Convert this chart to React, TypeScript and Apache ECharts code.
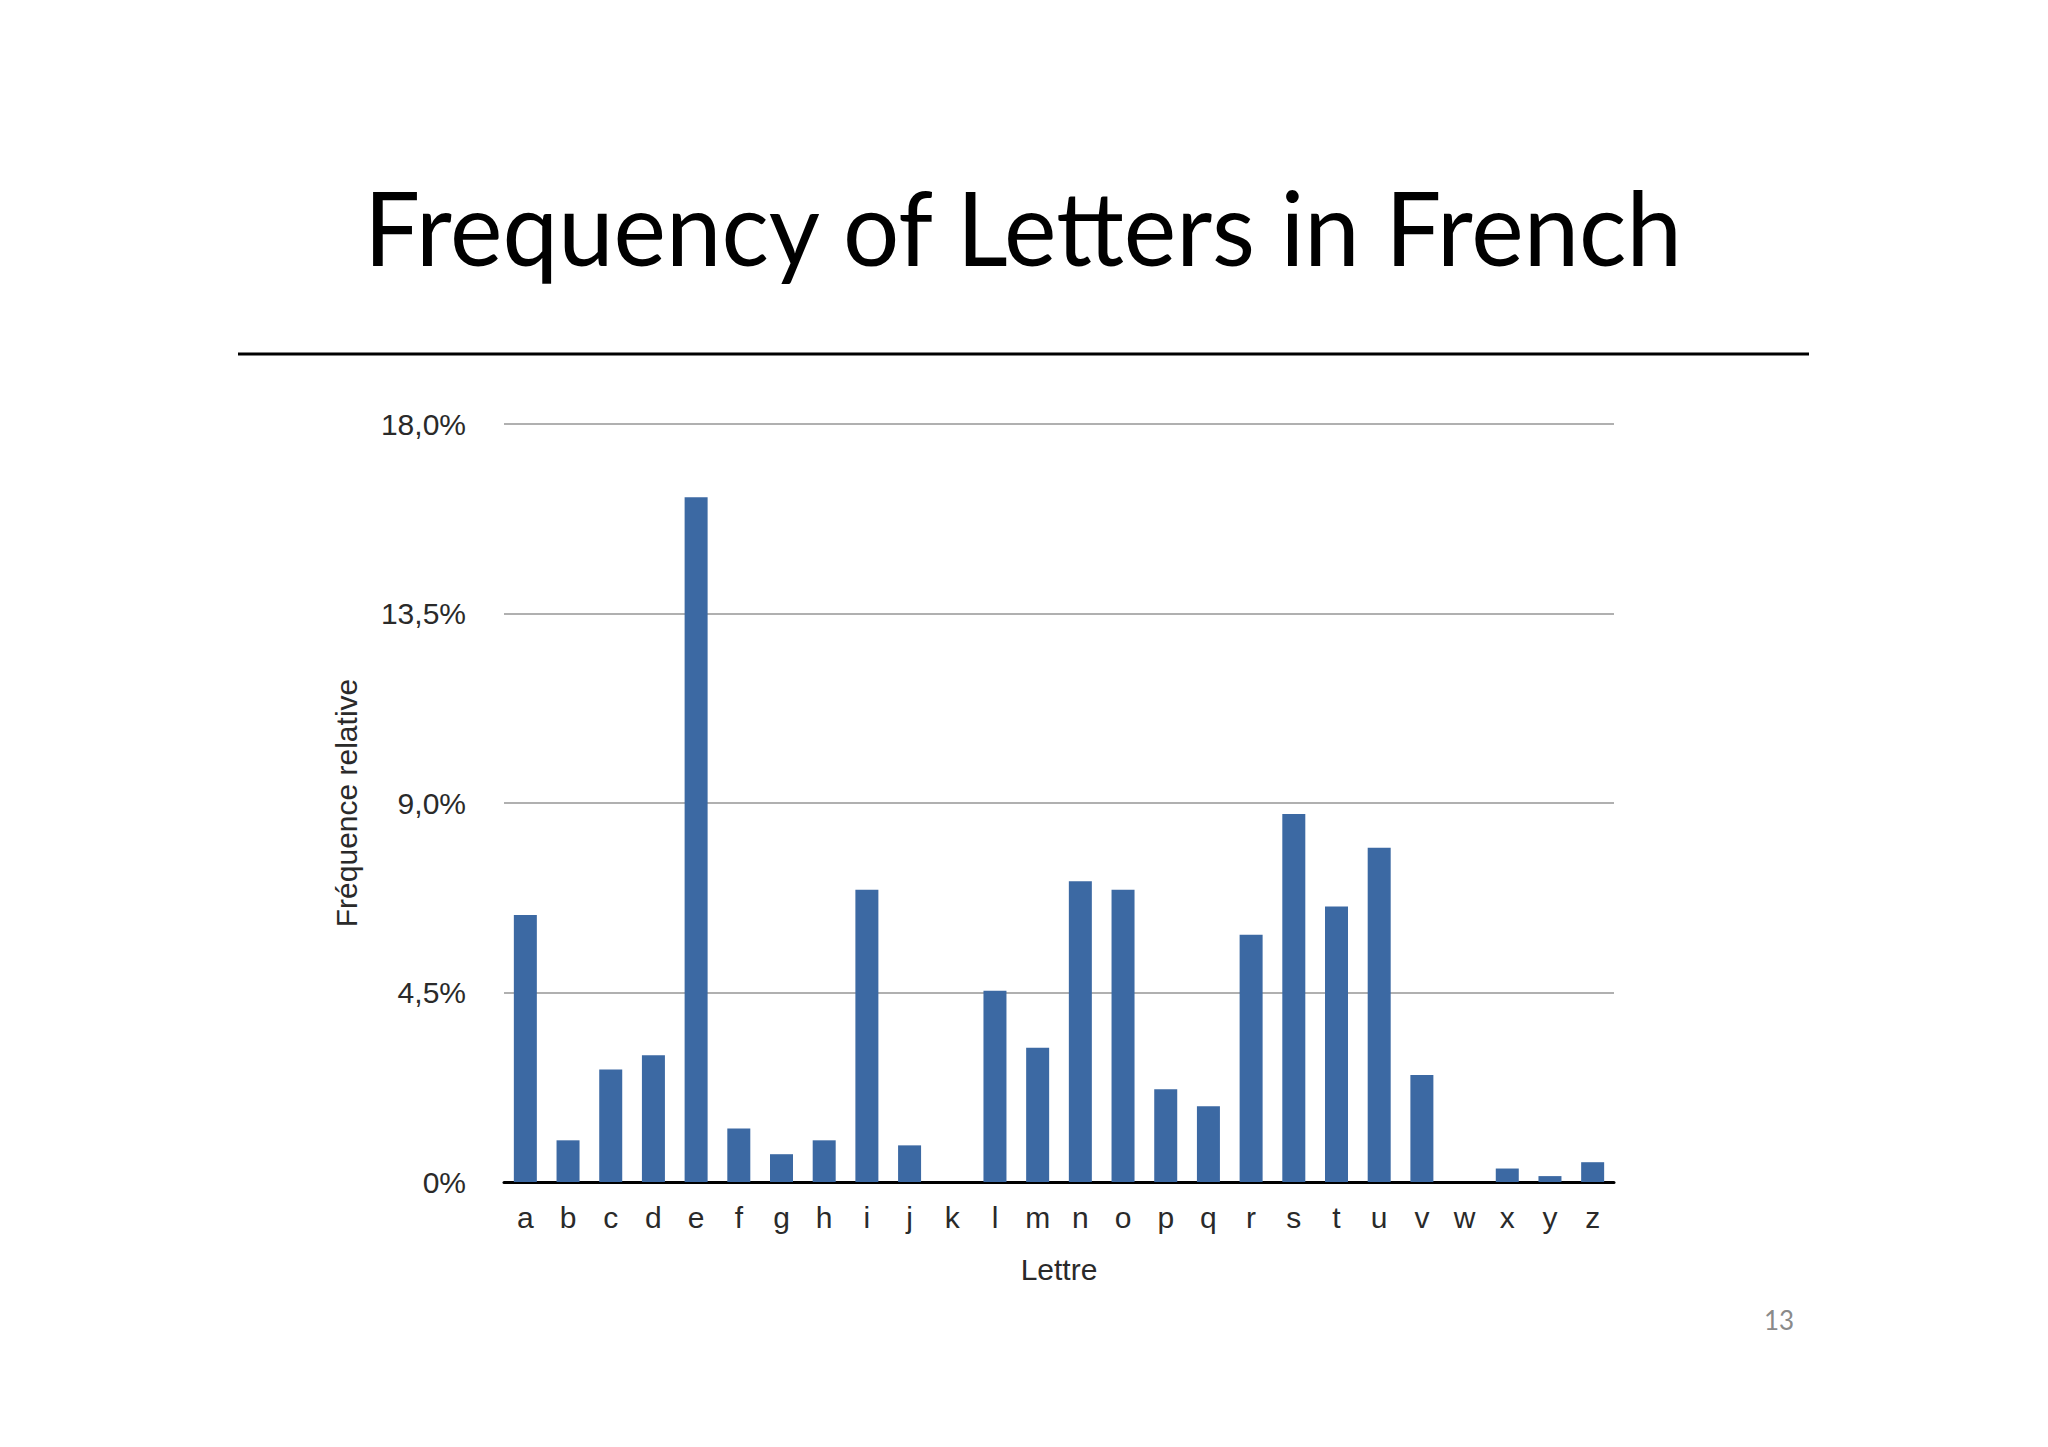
import React, { useEffect, useRef } from "react";
import * as echarts from "echarts";

const titleText = "Frequency of Letters in French";
const pageNumber = "13";
const xAxisName = "Lettre";
const yAxisName = "Fréquence relative";

const letters = [
  "a", "b", "c", "d", "e", "f", "g", "h", "i", "j", "k", "l", "m",
  "n", "o", "p", "q", "r", "s", "t", "u", "v", "w", "x", "y", "z",
];

const frequencies = [
  6.34, 0.99, 2.67, 3.01, 16.26, 1.27, 0.66, 0.99, 6.94, 0.87, 0.0, 4.54, 3.19,
  7.14, 6.94, 2.2, 1.8, 5.87, 8.74, 6.54, 7.94, 2.54, 0.0, 0.32, 0.14, 0.47,
];

const yTickLabels = ["0%", "4,5%", "9,0%", "13,5%", "18,0%"];

export default function App() {
  const ref = useRef<HTMLDivElement>(null);

  useEffect(() => {
    document.body.style.margin = "0";
    if (!ref.current) return;
    const chart = echarts.init(ref.current, null, { renderer: "svg" });
    const axisFont = "'Liberation Sans', Arial, sans-serif";
    chart.setOption({
      animation: false,
      backgroundColor: "#ffffff",
      grid: { left: 504, right: 434, top: 424, bottom: 265, containLabel: false },
      xAxis: {
        type: "category",
        data: letters,
        name: xAxisName,
        nameLocation: "middle",
        nameGap: 72,
        nameTextStyle: { fontFamily: axisFont, fontSize: 30, color: "#2a2a2a" },
        axisLine: { show: true, lineStyle: { color: "#000000", width: 3 } },
        axisTick: { show: false },
        axisLabel: { fontFamily: axisFont, fontSize: 30, color: "#2a2a2a", margin: 20, interval: 0 },
        splitLine: { show: false },
      },
      yAxis: {
        type: "value",
        min: 0,
        max: 18,
        interval: 4.5,
        name: yAxisName,
        nameLocation: "middle",
        nameGap: 143,
        nameTextStyle: { fontFamily: axisFont, fontSize: 30, color: "#2a2a2a" },
        axisLine: { show: false },
        axisTick: { show: false },
        axisLabel: {
          fontFamily: axisFont,
          fontSize: 30,
          color: "#2a2a2a",
          margin: 38,
          formatter: (_v: number, i: number) => yTickLabels[i] ?? "",
        },
        splitLine: { show: true, lineStyle: { color: "#b0b0b0", width: 2 } },
      },
      series: [
        {
          type: "bar",
          data: frequencies,
          barWidth: 23,
          itemStyle: { color: "#3c69a3" },
        },
      ],
      graphic: [
        {
          type: "text",
          x: 1023,
          y: 226,
          scaleX: 0.974,
          style: {
            text: titleText,
            fontFamily: "Lato, 'Open Sans', sans-serif",
            fontSize: 102,
            fill: "#000000",
            align: "center",
            verticalAlign: "middle",
          },
        },
        {
          type: "line",
          shape: { x1: 238, y1: 354, x2: 1809, y2: 354 },
          style: { stroke: "#000000", lineWidth: 3 },
        },
        {
          type: "text",
          x: 1779,
          y: 1320,
          style: {
            text: pageNumber,
            fontFamily: "Lato, 'Open Sans', sans-serif",
            fontSize: 26,
            fill: "#8a8a8a",
            align: "center",
            verticalAlign: "middle",
          },
        },
      ],
    });
    return () => chart.dispose();
  }, []);

  return (
    <div
      ref={ref}
      style={{ position: "absolute", left: 0, top: 0, width: 2048, height: 1447, background: "#fff" }}
    />
  );
}
